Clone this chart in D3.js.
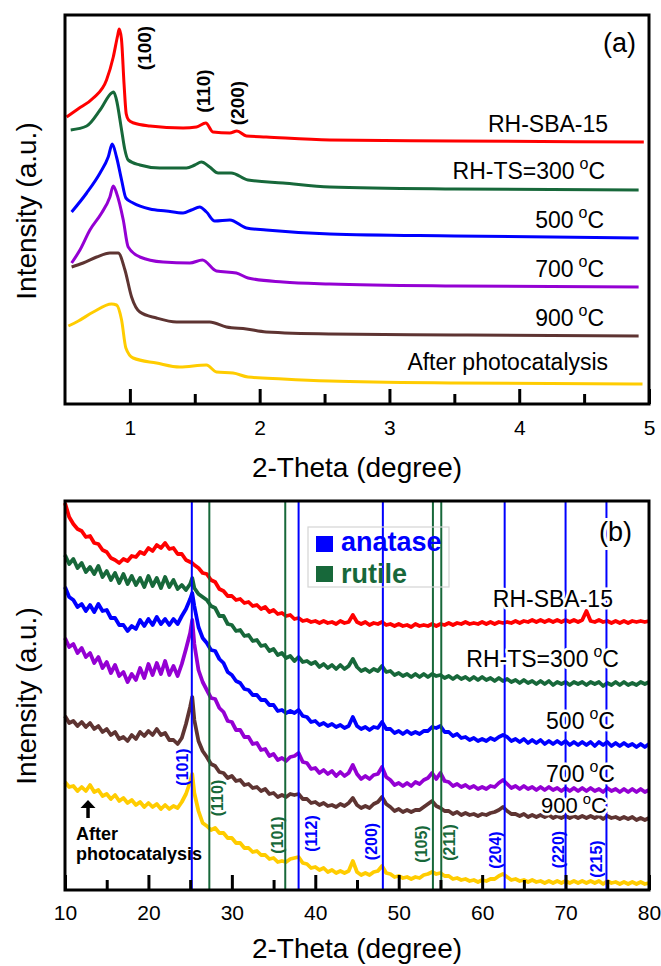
<!DOCTYPE html>
<html>
<head>
<meta charset="utf-8">
<script src="https://cdn.jsdelivr.net/npm/d3@7"></script>
<style>
  body { margin: 0; background: #fff; }
  svg { display: block; font-family: "Liberation Sans", Arial, sans-serif; }
</style>
</head>
<body>
<div id="chart"></div>
<script>
'use strict';

// ---- panel (a): low-angle XRD, points are [2-theta, intensity a.u.] ----
var lowNames = ['RH-SBA-15', 'RH-TS=300', '500', '700', '900', 'After photocatalysis'];
var lowHasDeg = [false, true, true, true, true, false];
var lowSBA15 = [[0.513,287],[0.6,295],[0.718,306],[0.82,324],[0.872,347],[0.905,368],[0.918,375],[0.935,365],[0.955,320],[0.972,290],[0.99,284],[1.03,281],[1.154,278],[1.41,276],[1.513,277],[1.585,281],[1.64,272],[1.77,271],[1.825,273],[1.898,268],[2.05,267],[2.54,264],[3.5,263],[4.96,262]];
var lowTS300 = [[0.544,274],[0.667,278],[0.77,294],[0.859,311],[0.875,312],[0.895,305],[0.936,274],[0.96,255],[0.987,244],[1.077,239],[1.23,236],[1.436,236],[1.5,239],[1.551,242],[1.615,237],[1.68,231],[1.78,231],[1.91,224],[2.18,221],[2.54,217],[3.5,215],[4.92,214]];
var low500 = [[0.551,192],[0.667,211],[0.77,231],[0.833,247],[0.864,260],[0.897,247],[0.936,224],[0.969,206],[1.025,201],[1.154,195],[1.28,193],[1.41,191],[1.474,194],[1.538,197],[1.59,192],[1.654,183],[1.77,184],[1.898,176],[2.05,174],[2.54,170],[3.5,168],[4.92,166]];
var low700 = [[0.551,141],[0.615,154],[0.692,174],[0.782,191],[0.846,207],[0.872,218],[0.897,211],[0.949,184],[0.987,157],[1.077,147],[1.256,142],[1.462,141],[1.559,144],[1.667,133],[1.82,131],[1.91,126],[2.18,122],[2.54,120],[3.5,118],[4.92,117]];
var low900 = [[0.551,137],[0.64,141],[0.744,147],[0.846,151],[0.91,151],[0.962,134],[1.013,107],[1.077,92],[1.205,86],[1.36,82],[1.615,82],[1.744,77],[1.898,75],[2.05,72],[2.54,70],[3.5,69],[4.92,68]];
var lowAfter = [[0.526,78],[0.603,83],[0.718,92],[0.859,100],[0.897,99],[0.936,84],[0.969,56],[1.025,46],[1.205,41],[1.385,37],[1.59,39],[1.667,32],[1.795,31],[1.91,27],[2.18,25],[2.54,23],[3.5,21],[4.95,20]];
var lowTicks = [1, 2, 3, 4, 5];
var lowMinorTicks = [1.5, 2.5, 3.5, 4.5];
var lowPeaks = ['(100)', '(110)', '(200)'];

// ---- panel (b): wide-angle XRD, one intensity per 2-theta in thetaB ----
var wideNames = ['RH-SBA-15', 'RH-TS=300', '500', '700', '900'];
var wideHasDeg = [false, true, true, true, true];
var thetaB = [
  10,10.5,11,11.5,12,12.5,13,13.5,14,14.5,
  15,15.5,16,16.5,17,17.5,18,18.5,19,19.5,
  20,20.5,21,21.5,22,22.5,23,23.5,24,24.5,
  25,25.25,25.5,26,26.5,27,27.5,28,28.5,29,29.5,
  30,30.5,31,31.5,32,32.5,33,33.5,34,34.5,
  35,35.5,36,36.5,37,37.5,38,38.5,39,39.5,
  40,40.5,41,41.5,42,42.5,43,43.5,44,44.5,
  45,45.5,46,46.5,47,47.5,48,48.5,49,49.5,
  50,50.5,51,51.5,52,52.5,53,53.5,54,54.5,
  55,55.5,56,56.5,57,57.5,58,58.5,59,59.5,
  60,60.5,61,61.5,62,62.5,63,63.5,64,64.5,
  65,65.5,66,66.5,67,67.5,68,68.5,69,69.5,
  70,70.5,71,71.5,72,72.5,73,73.5,74,74.5,
  75,75.5,76,76.5,77,77.5,78,78.5,79,79.5,
  80];
var wideSBA15 = [
  387,373,366,361,359,353,354,347,346,340,
  338,332,330,327,331,329,334,333,338,336,
  342,339,345,342,347,341,342,336,336,330,
  328,327,325,322,317,316,310,308,301,299,294,
  294,290,291,287,288,284,285,281,283,278,
  280,276,277,274,275,271,272,269,270,268,
  269,267,269,267,268,266,269,267,268,275,
  268,266,268,265,267,266,268,265,266,264,
  266,264,265,263,266,264,265,264,266,264,
  266,265,267,265,267,266,268,266,267,266,
  268,266,268,266,268,267,268,267,269,267,
  269,268,270,268,270,268,270,268,270,268,
  270,268,270,268,270,279,269,268,270,268,
  269,267,269,267,269,267,269,268,269,268,
  269];
var wideTS300 = [
  335,326,331,322,327,318,323,316,324,313,
  319,310,317,307,316,306,314,305,312,303,
  314,304,312,302,313,303,310,301,305,300,
  306,312,302,296,293,290,284,282,274,274,266,
  265,259,260,254,255,249,250,244,245,239,
  241,235,237,232,234,229,233,228,229,226,
  228,223,226,222,225,221,225,221,224,231,
  223,219,221,218,221,219,224,218,219,215,
  217,214,216,213,216,213,216,213,216,214,
  215,212,214,211,214,211,213,210,213,210,
  213,210,212,209,212,209,211,208,210,207,
  210,207,209,206,209,206,209,205,208,206,
  208,205,208,206,208,205,208,206,208,204,
  207,205,208,205,208,205,207,205,208,206,
  208];
var wide500 = [
  303,293,290,283,286,279,285,278,286,279,
  280,272,272,265,265,259,264,261,270,264,
  271,265,273,266,271,265,271,266,274,281,
  291,297,284,263,252,247,240,239,231,227,218,
  215,209,207,201,200,195,195,190,190,185,
  185,179,180,177,179,177,180,174,173,168,
  169,165,167,164,166,163,165,162,164,173,
  164,161,163,160,163,162,168,161,161,157,
  159,156,159,156,158,156,159,159,163,162,
  164,158,158,154,156,152,153,150,152,149,
  151,149,152,150,153,155,153,149,151,148,
  151,147,150,147,150,146,149,146,149,146,
  149,145,148,145,148,145,148,144,148,145,
  148,144,147,144,147,144,146,143,146,143,
  146];
var wide700 = [
  252,243,246,237,242,233,237,227,233,222,
  228,217,225,214,218,208,216,210,222,212,
  226,215,227,216,229,215,224,214,226,241,
  257,270,246,220,208,200,192,191,182,178,169,
  168,160,160,153,153,146,147,140,141,134,
  136,130,132,129,133,134,137,128,127,121,
  122,117,120,116,119,114,118,114,117,125,
  116,111,114,111,115,116,123,113,110,105,
  107,104,107,104,108,106,110,112,117,111,
  117,109,108,104,106,103,105,102,104,101,
  103,101,104,103,107,110,106,102,104,101,
  104,101,103,100,103,100,103,100,102,99,
  102,99,102,99,102,99,102,99,101,98,
  102,99,101,98,101,98,101,98,101,98,
  100];
var wide900 = [
  174,167,169,164,168,163,167,161,164,158,
  161,155,158,151,153,149,155,151,158,154,
  159,155,161,155,157,150,150,146,152,166,
  183,193,170,149,139,133,126,124,118,117,112,
  114,109,110,105,106,102,103,99,101,96,
  97,93,95,93,96,95,96,91,91,87,
  88,85,87,84,85,83,86,84,87,92,
  85,82,84,82,86,88,93,86,83,79,
  81,78,80,78,80,80,83,86,89,84,
  82,79,79,76,78,75,77,75,76,74,
  76,75,77,78,80,83,79,76,76,74,
  76,73,75,73,75,73,75,72,74,72,
  74,72,74,72,74,72,74,72,74,71,
  74,72,73,71,73,71,73,70,72,70,
  72];
var wideAfter = [
  108,103,104,99,103,99,105,98,100,94,
  96,91,95,89,92,87,90,85,88,83,
  87,83,86,81,85,81,84,82,88,96,
  108,116,97,79,67,64,60,62,57,57,52,
  52,47,47,42,42,38,39,35,35,31,
  32,28,29,28,31,32,33,27,26,22,
  23,20,22,18,20,17,19,17,19,29,
  18,15,17,15,18,19,24,17,16,13,
  14,12,13,11,13,12,15,16,18,16,
  17,14,14,11,12,10,11,9,10,8,
  10,9,11,11,14,16,13,10,11,9,
  10,8,10,8,9,7,9,7,9,7,
  9,7,9,7,9,7,9,7,9,6,
  9,7,8,6,8,6,8,6,8,6,
  7];
var anataseAt = [25.2, 38.0, 48.1, 62.7, 70.0, 74.9];
var anataseHkl = ['(101)', '(112)', '(200)', '(204)', '(220)', '(215)'];
var rutileAt = [27.3, 36.4, 54.1, 55.1];
var rutileHkl = ['(110)', '(101)', '(105)', '(211)'];
var wideTicks = [10, 20, 30, 40, 50, 60, 70, 80];
var wideMinorTicks = [15, 25, 35, 45, 55, 65, 75];

// ---- layout (label anchors in data units) ----
var colors = ['#ff0000', '#17683a', '#0000ff', '#9400d3', '#5e3432', '#ffcc00'];
var anataseColor = '#0000ff', rutileColor = '#17683a';
var lowPeakLabelAt = [[1.115, 356], [1.569, 313], [1.831, 301]];
var lowNameAt = [[4.685, 272], [4.662, 225], [4.654, 176], [4.654, 127], [4.654, 78], [4.685, 34]];
var wideNameAt = [[75.68, 283], [76.4, 223], [75.92, 161], [75.92, 108], [74.96, 77]];
var anataseLabelAt = [[24.14, 123], [39.55, 56.5], [46.74, 48.5], [61.6, 40], [69.15, 40.5], [73.7, 31]];
var rutileLabelAt = [[28.28, 92], [35.47, 55], [52.73, 46], [56.03, 47.5]];

displayChart();

function displayChart() {
  var width = 661, height = 966;
  var svg = d3.select('#chart').append('svg')
      .attr('width', width).attr('height', height);
  svg.append('rect').attr('width', width).attr('height', height).attr('fill', '#fff');

  var xA = d3.scaleLinear().domain([0.5, 5]).range([65, 649]);
  var yA = d3.scaleLinear().domain([0, 389]).range([404, 15]);
  var xB = d3.scaleLinear().domain([10, 80]).range([65, 649]);
  var yB = d3.scaleLinear().domain([0, 389]).range([890, 501]);

  // ---------- panel (a) ----------
  var lowSeries = [lowSBA15, lowTS300, low500, low700, low900, lowAfter];
  var lineA = d3.line()
      .x(function(d) { return xA(d[0]); })
      .y(function(d) { return yA(d[1]); })
      .curve(d3.curveMonotoneX);
  svg.append('g').selectAll('path').data(lowSeries).enter().append('path')
      .attr('d', lineA)
      .attr('fill', 'none')
      .attr('stroke', function(d, i) { return colors[i]; })
      .attr('stroke-width', 3)
      .attr('stroke-linejoin', 'round');

  svg.append('g').selectAll('text').data(lowPeaks).enter().append('text')
      .attr('transform', function(d, i) {
        return 'translate(' + xA(lowPeakLabelAt[i][0]) + ',' + yA(lowPeakLabelAt[i][1]) + ') rotate(-90)';
      })
      .attr('text-anchor', 'middle')
      .attr('dominant-baseline', 'central')
      .style('font-size', '19px').style('font-weight', 'bold')
      .text(function(d) { return d; });

  lowNames.forEach(function(name, i) {
    sampleLabel(svg, xA(lowNameAt[i][0]), yA(lowNameAt[i][1]), name, lowHasDeg[i], 23, false);
  });

  drawFrame(svg, xA, yA, lowTicks, lowMinorTicks, 404, 16);
  svg.append('text').attr('x', 636).attr('y', 52).attr('text-anchor', 'end')
      .style('font-size', '27px').text('(a)');
  svg.append('text').attr('x', 357).attr('y', 477).attr('text-anchor', 'middle')
      .style('font-size', '28px').text('2-Theta (degree)');
  svg.append('text').attr('transform', 'translate(36,211) rotate(-90)')
      .attr('text-anchor', 'middle').style('font-size', '28px').text('Intensity (a.u.)');

  // ---------- panel (b) ----------
  var wideSeries = [wideSBA15, wideTS300, wide500, wide700, wide900, wideAfter];
  var lineB = d3.line()
      .x(function(d, i) { return xB(thetaB[i]); })
      .y(function(d) { return yB(d); });
  svg.append('g').selectAll('path').data(wideSeries).enter().append('path')
      .attr('d', lineB)
      .attr('fill', 'none')
      .attr('stroke', function(d, i) { return colors[i]; })
      .attr('stroke-width', 3.8)
      .attr('stroke-linejoin', 'round');

  // legend box
  var leg = svg.append('g');
  leg.append('rect').attr('x', 308).attr('y', 527).attr('width', 141).attr('height', 60)
      .attr('fill', 'none').attr('stroke', '#d4d4d4').attr('stroke-width', 1.2);

  // reference lines
  var refs = anataseAt.map(function(t) { return { t: t, c: anataseColor }; })
      .concat(rutileAt.map(function(t) { return { t: t, c: rutileColor }; }));
  svg.append('g').selectAll('line').data(refs).enter().append('line')
      .attr('x1', function(d) { return xB(d.t); })
      .attr('x2', function(d) { return xB(d.t); })
      .attr('y1', yB.range()[1]).attr('y2', yB.range()[0])
      .attr('stroke', function(d) { return d.c; })
      .attr('stroke-width', 2);

  leg.raise();
  leg.append('rect').attr('x', 316).attr('y', 536).attr('width', 17).attr('height', 16).attr('fill', anataseColor);
  leg.append('rect').attr('x', 316).attr('y', 566).attr('width', 17).attr('height', 16).attr('fill', rutileColor);
  leg.append('text').attr('x', 341).attr('y', 551).attr('fill', anataseColor)
      .style('font-size', '27px').style('font-weight', 'bold').text('anatase');
  leg.append('text').attr('x', 341).attr('y', 583).attr('fill', rutileColor)
      .style('font-size', '27px').style('font-weight', 'bold').text('rutile');

  var hkl = anataseHkl.map(function(h, i) { return { h: h, at: anataseLabelAt[i], c: anataseColor }; })
      .concat(rutileHkl.map(function(h, i) { return { h: h, at: rutileLabelAt[i], c: rutileColor }; }));
  svg.append('g').selectAll('text').data(hkl).enter().append('text')
      .attr('transform', function(d) {
        return 'translate(' + xB(d.at[0]) + ',' + yB(d.at[1]) + ') rotate(-90)';
      })
      .attr('text-anchor', 'middle')
      .attr('dominant-baseline', 'central')
      .attr('fill', function(d) { return d.c; })
      .style('font-size', '16px').style('font-weight', 'bold')
      .text(function(d) { return d.h; });

  wideNames.forEach(function(name, i) {
    sampleLabel(svg, xB(wideNameAt[i][0]), yB(wideNameAt[i][1]), name, wideHasDeg[i], i === 4 ? 22 : 23, true);
  });

  // "After photocatalysis" note with arrow
  var ax = xB(12.76);
  svg.append('line').attr('x1', ax).attr('x2', ax).attr('y1', yB(72)).attr('y2', yB(84))
      .attr('stroke', '#000').attr('stroke-width', 3.5);
  svg.append('path')
      .attr('d', 'M' + (ax - 7.5) + ',' + (yB(90) + 8) + 'L' + ax + ',' + yB(90) + 'L' + (ax + 7.5) + ',' + (yB(90) + 8) + 'Z')
      .attr('fill', '#000');
  var note = svg.append('text').style('font-size', '18px').style('font-weight', 'bold');
  note.append('tspan').attr('x', xB(11.32)).attr('y', yB(50)).text('After');
  note.append('tspan').attr('x', xB(11.32)).attr('y', yB(30)).text('photocatalysis');

  drawFrame(svg, xB, yB, wideTicks, wideMinorTicks, 890, 15);
  svg.append('text').attr('x', 632).attr('y', 541).attr('text-anchor', 'end')
      .attr('stroke', '#fff').attr('stroke-width', 6).attr('paint-order', 'stroke')
      .style('font-size', '27px').text('(b)');
  svg.append('text').attr('x', 357).attr('y', 958).attr('text-anchor', 'middle')
      .style('font-size', '28px').text('2-Theta (degree)');
  svg.append('text').attr('transform', 'translate(36,696) rotate(-90)')
      .attr('text-anchor', 'middle').style('font-size', '28px').text('Intensity (a.u.)');
}

function sampleLabel(g, x, y, main, deg, size, halo) {
  var t = g.append('text').attr('x', x).attr('y', y)
      .attr('text-anchor', 'end')
      .style('font-size', size + 'px');
  if (halo) {
    t.attr('stroke', '#fff').attr('stroke-width', 5)
        .attr('stroke-linejoin', 'round').attr('paint-order', 'stroke');
  }
  t.append('tspan').text(main);
  if (deg) {
    t.append('tspan').attr('dx', 5).attr('dy', -size * 0.42)
        .style('font-size', Math.round(size * 0.68) + 'px').text('o');
    t.append('tspan').attr('dy', size * 0.42).text('C');
  }
}

function drawFrame(svg, x, y, majors, minors, y0, pad) {
  var major = d3.axisBottom(x).tickValues(majors).tickSize(-15).tickPadding(pad)
      .tickFormat(d3.format('d'));
  var minor = d3.axisBottom(x).tickValues(minors).tickSize(-10).tickFormat('');
  var gMaj = svg.append('g').attr('transform', 'translate(0,' + y0 + ')').call(major);
  var gMin = svg.append('g').attr('transform', 'translate(0,' + y0 + ')').call(minor);
  [gMaj, gMin].forEach(function(g) {
    g.select('.domain').remove();
    g.selectAll('line').attr('stroke', '#000').attr('stroke-width', 3);
  });
  gMaj.selectAll('text').style('font-size', '21px')
      .style('font-family', '"Liberation Sans", Arial, sans-serif').attr('fill', '#000');
  svg.append('rect')
      .attr('x', x.range()[0]).attr('y', y.range()[1])
      .attr('width', x.range()[1] - x.range()[0])
      .attr('height', y.range()[0] - y.range()[1])
      .attr('fill', 'none').attr('stroke', '#000').attr('stroke-width', 3);
}
</script>
</body>
</html>
